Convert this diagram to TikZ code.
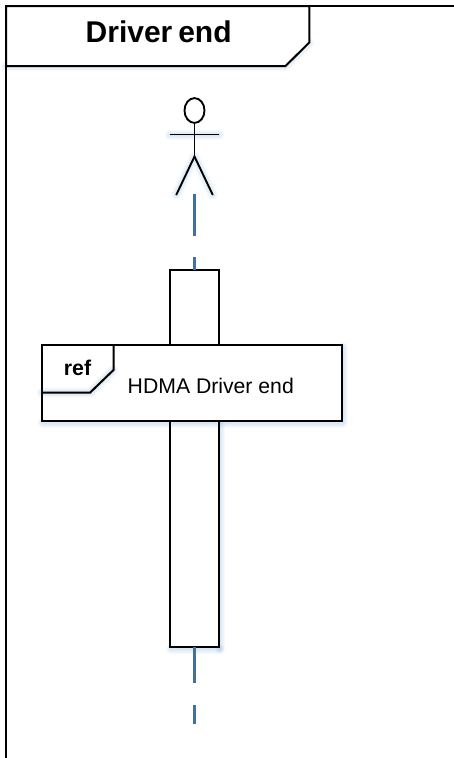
\documentclass[tikz,border=0pt]{standalone}
\usepackage{fontspec}
\usetikzlibrary{shapes.geometric}
\setmainfont{Liberation Sans}
\definecolor{lifeblue}{HTML}{41719C}
\newcommand{\glowpath}[1]{%
  \foreach \wd in {2,4,6,8,10}{%
    \draw[glowline,line width=\wd*0.75pt,xshift=0.5pt,yshift=-1.5pt] #1;}%
}
\tikzset{
  glowline/.style={draw=blue!45!cyan!70!black,opacity=0.03,line cap=round,line join=round},
  outline/.style={draw=black,line width=1.5pt,line join=miter},
  thin outline/.style={draw=black,line width=1.4pt},
  lifeline/.style={draw=lifeblue,line width=1.55pt},
  boxnode/.style={draw=black,line width=1.5pt,fill=white,rectangle,inner sep=0pt,outer sep=0pt},
}
\begin{document}
\begin{tikzpicture}[x=0.75pt,y=-0.75pt]
\useasboundingbox (0,0) rectangle (454,758);
% frame
\coordinate (frameTL) at (6,6);
\coordinate (frameTR) at (454,6);
\coordinate (frameBL) at (6,758);
\coordinate (tabA) at (309.3,6);
\coordinate (tabB) at (309.3,42.5);
\coordinate (tabC) at (285.5,66);
\coordinate (tabD) at (6,66);
\glowpath{(tabB) -- (tabC) -- (tabD)}
\draw[outline,fill=white] (tabA) -- (tabB) -- (tabC) -- (tabD) -- (frameTL) -- cycle;
\draw[outline] (frameTR) -- (frameTL) -- (frameBL);
\node[inner sep=0pt] (title) at (158.7,32) {\fontsize{22.5}{25}\selectfont\bfseries Driver\kern-0.08em{} end};
% actor
\node[draw=black,line width=1.4pt,ellipse,minimum width=15pt,minimum height=18.6pt,inner sep=0pt,fill=white] (head) at (194.5,110.5) {};
\coordinate (armL) at (169.8,134.5);
\coordinate (armR) at (219.2,134.5);
\coordinate (hip) at (194.5,156.5);
\coordinate (legL) at (176.2,195);
\coordinate (legR) at (212.8,195);
\glowpath{(armL) -- (armR)}
\glowpath{(legL) -- (hip) -- (legR)}
\draw[thin outline] (armL) -- (armR);
\draw[thin outline] (head.south) -- (hip);
\draw[thin outline] (legL) -- (hip) -- (legR);
% lifeline
\coordinate (lifeA) at (194.5,193.5);
\coordinate (lifeA2) at (194.5,235.5);
\coordinate (lifeB) at (194.5,257);
\coordinate (lifeC) at (194.5,682.5);
\coordinate (lifeD) at (194.5,705);
\coordinate (lifeE) at (194.5,724);
% activation
\glowpath{(170,647) -- (219,647)}
\glowpath{(219,647) -- (219,420)}
\node[boxnode,minimum width=36.75pt,minimum height=283pt,anchor=north west] (act) at (170.2,269.7) {};
\draw[lifeline] (lifeA) -- (lifeA2);
\draw[lifeline] (lifeB) -- (lifeB |- act.north);
\draw[lifeline] (lifeC |- act.south) -- (lifeC);
\draw[lifeline] (lifeD) -- (lifeE);
% ref
\glowpath{(41.7,420.7) -- (342,420.7) -- (342,345)}
\node[boxnode,minimum width=225.2pt,minimum height=56.8pt,anchor=north west] (refbox) at (41.7,345) {};
\coordinate (refA) at (113.5,345);
\coordinate (refB) at (113.5,370);
\coordinate (refC) at (90,392.7);
\coordinate (refD) at (41.7,392.7);
\glowpath{(refB) -- (refC) -- (refD)}
\draw[outline] (refA) -- (refB) -- (refC) -- (refD);
\node[inner sep=0pt] (reftext) at (77.5,368) {\fontsize{16}{18}\selectfont\bfseries ref};
\node[inner sep=0pt] (hdma) at (210.8,386) {\fontsize{15.9}{19}\selectfont HDMA Driver end};
\end{tikzpicture}
\end{document}
